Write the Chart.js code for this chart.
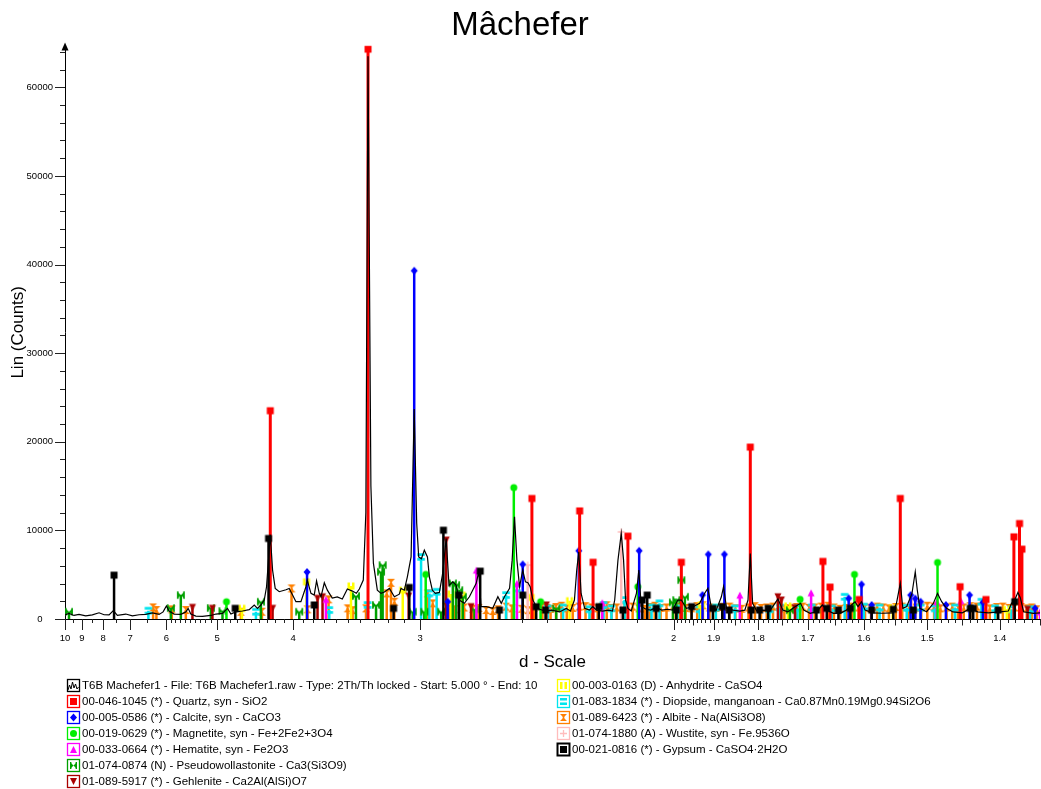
<!DOCTYPE html>
<html>
<head>
<meta charset="utf-8">
<title>Mâchefer</title>
<script src="https://cdn.jsdelivr.net/npm/chart.js@4.4.1/dist/chart.umd.min.js"></script>
<style>
    html, body { margin: 0; padding: 0; background: #fff; overflow: hidden; }
    #wrap { position: relative; width: 1041px; height: 789px; font-family: Arial, "Liberation Sans", sans-serif; }
    #chart { position: absolute; left: 0; top: 0; }
    .legend { position: absolute; font-size: 11.5px; color: #000; }
    .legend .row { height: 16.05px; white-space: nowrap; display: flex; align-items: center; }
    .legend canvas { margin-right: 1px; flex: none; }
</style>
</head>
<body>
<div id="wrap">
    <canvas id="chart" width="1041" height="789"></canvas>
    <div class="legend" style="left:66px; top:677px">
        <div class="row"><canvas class="ico" data-key="pattern" width="15" height="15"></canvas><span>T6B Machefer1 - File: T6B Machefer1.raw - Type: 2Th/Th locked - Start: 5.000 ° - End: 10</span></div>
        <div class="row"><canvas class="ico" data-key="quartz" width="15" height="15"></canvas><span>00-046-1045 (*) - Quartz, syn - SiO2</span></div>
        <div class="row"><canvas class="ico" data-key="calcite" width="15" height="15"></canvas><span>00-005-0586 (*) - Calcite, syn - CaCO3</span></div>
        <div class="row"><canvas class="ico" data-key="magnetite" width="15" height="15"></canvas><span>00-019-0629 (*) - Magnetite, syn - Fe+2Fe2+3O4</span></div>
        <div class="row"><canvas class="ico" data-key="hematite" width="15" height="15"></canvas><span>00-033-0664 (*) - Hematite, syn - Fe2O3</span></div>
        <div class="row"><canvas class="ico" data-key="pseudo" width="15" height="15"></canvas><span>01-074-0874 (N) - Pseudowollastonite - Ca3(Si3O9)</span></div>
        <div class="row"><canvas class="ico" data-key="gehlenite" width="15" height="15"></canvas><span>01-089-5917 (*) - Gehlenite - Ca2Al(AlSi)O7</span></div>
    </div>
    <div class="legend" style="left:556px; top:677px">
        <div class="row"><canvas class="ico" data-key="anhydrite" width="15" height="15"></canvas><span>00-003-0163 (D) - Anhydrite - CaSO4</span></div>
        <div class="row"><canvas class="ico" data-key="diopside" width="15" height="15"></canvas><span>01-083-1834 (*) - Diopside, manganoan - Ca0.87Mn0.19Mg0.94Si2O6</span></div>
        <div class="row"><canvas class="ico" data-key="albite" width="15" height="15"></canvas><span>01-089-6423 (*) - Albite - Na(AlSi3O8)</span></div>
        <div class="row"><canvas class="ico" data-key="wustite" width="15" height="15"></canvas><span>01-074-1880 (A) - Wustite, syn - Fe.9536O</span></div>
        <div class="row"><canvas class="ico" data-key="gypsum" width="15" height="15"></canvas><span>00-021-0816 (*) - Gypsum - CaSO4·2H2O</span></div>
    </div>
</div>
<script>
// measured pattern: d-spacing (Å) and Lin counts
const patternD = [10.0, 9.744, 9.441, 9.157, 8.801, 8.477, 8.172, 7.958, 7.755, 7.589, 7.440, 7.146, 6.931, 6.726, 6.532, 6.352, 6.179, 6.080, 6.001, 5.938,
    5.824, 5.678, 5.574, 5.527, 5.474, 5.377, 5.254, 5.106, 5.022, 4.914, 4.836, 4.784, 4.710, 4.616, 4.524, 4.457, 4.415, 4.372, 4.330, 4.302,
    4.257, 4.230, 4.199, 4.153, 4.078, 4.043, 4.007, 3.972, 3.921, 3.871, 3.858, 3.822, 3.791, 3.769, 3.744, 3.728, 3.698, 3.671, 3.628, 3.585,
    3.543, 3.502, 3.462, 3.431, 3.408, 3.378, 3.359, 3.343, 3.322, 3.304, 3.276, 3.250, 3.227, 3.193, 3.160, 3.128, 3.117, 3.096, 3.077, 3.054,
    3.035, 3.020, 3.008, 2.992, 2.975, 2.957, 2.946, 2.929, 2.912, 2.890, 2.873, 2.853, 2.838, 2.818, 2.801, 2.785, 2.759, 2.734, 2.701, 2.689,
    2.678, 2.654, 2.624, 2.601, 2.586, 2.572, 2.550, 2.539, 2.529, 2.519, 2.508, 2.495, 2.484, 2.474, 2.465, 2.454, 2.441, 2.428, 2.405, 2.382,
    2.353, 2.329, 2.314, 2.300, 2.292, 2.285, 2.277, 2.265, 2.249, 2.238, 2.225, 2.206, 2.187, 2.175, 2.168, 2.158, 2.148, 2.141, 2.135, 2.128,
    2.118, 2.103, 2.096, 2.089, 2.075, 2.062, 2.047, 2.032, 2.016, 2.003, 1.989, 1.980, 1.967, 1.950, 1.934, 1.922, 1.914, 1.906, 1.894, 1.882,
    1.877, 1.870, 1.856, 1.840, 1.829, 1.822, 1.817, 1.812, 1.803, 1.790, 1.776, 1.759, 1.749, 1.739, 1.725, 1.714, 1.708, 1.696, 1.684, 1.673,
    1.665, 1.653, 1.641, 1.630, 1.621, 1.615, 1.610, 1.604, 1.598, 1.585, 1.569, 1.553, 1.547, 1.541, 1.537, 1.531, 1.523, 1.518, 1.515, 1.511,
    1.501, 1.491, 1.485, 1.479, 1.472, 1.463, 1.450, 1.439, 1.429, 1.415, 1.400, 1.389, 1.385, 1.381, 1.377, 1.374, 1.370, 1.358, 1.350];
const patternCounts = [450, 640, 400, 520, 350, 470, 700, 480, 470, 940, 400, 560, 350, 480, 520, 700, 520, 800, 1460, 900,
    560, 520, 800, 1200, 560, 330, 300, 400, 560, 640, 1200, 560, 800, 900, 1050, 1580, 1200, 1580, 2140, 3640,
    9500, 5520, 3450, 3080, 3300, 3450, 2700, 1950, 1950, 3640, 4390, 2900, 2700, 4300, 2900, 2500, 4090, 3260, 2360, 2500,
    2250, 3380, 3150, 2900, 3380, 4390, 12000, 63500, 15000, 6300, 3260, 2890, 3040, 3450, 2510, 2800, 3450, 3250, 4760, 7000,
    23700, 10800, 7000, 6800, 7770, 7000, 4760, 3250, 2900, 3000, 5000, 9090, 3800, 4200, 3830, 2140, 1770, 2510, 4020, 5330,
    1390, 1390, 1200, 2510, 1770, 2510, 3450, 6640, 11520, 6640, 3640, 5520, 4200, 4100, 3640, 2140, 1390, 1100, 900, 1000,
    800, 1200, 900, 2140, 5520, 7580, 2880, 1200, 1000, 1390, 1000, 900, 1000, 900, 2140, 6640, 9650, 6640, 2140, 1200,
    900, 2880, 5520, 1390, 1100, 1000, 1300, 1000, 1100, 1000, 2140, 2140, 1200, 1390, 1770, 2880, 3450, 1390, 1000, 2510,
    3640, 1200, 1000, 900, 1000, 2140, 7400, 1770, 900, 1000, 900, 2260, 1000, 800, 1370, 1770, 1000, 640, 820, 1580,
    1000, 640, 640, 1000, 1580, 1950, 1400, 1950, 1000, 700, 650, 700, 1770, 4020, 1200, 1400, 2880, 5330, 3300, 1200,
    820, 1770, 2890, 1950, 1200, 800, 700, 1200, 800, 700, 800, 900, 1770, 2140, 3000, 2400, 820, 640, 700];

// reference sticks: d-spacing and drawn height
const quartzD = [4.257, 3.343, 2.458, 2.282, 2.237, 2.128, 1.980, 1.817, 1.672, 1.659, 1.608, 1.541, 1.453, 1.418, 1.382, 1.375, 1.372];
const quartzI = [23500, 64300, 13600, 12200, 6400, 9350, 6400, 19400, 6500, 3600, 2200, 13600, 3640, 2200, 9270, 10770, 7880];
const calciteD = [3.860, 3.035, 2.845, 2.495, 2.285, 2.095, 1.927, 1.913, 1.875, 1.626, 1.604, 1.587, 1.525, 1.518, 1.510, 1.473, 1.440, 1.422, 1.356];
const calciteI = [5300, 39300, 1950, 6160, 7700, 7700, 2700, 7290, 7290, 2330, 3900, 1580, 2700, 2300, 1950, 1580, 2700, 1880, 1200];
const magnetiteD = [4.852, 2.967, 2.532, 2.424, 2.099, 1.715, 1.616, 1.485];
const magnetiteI = [1950, 5030, 14830, 1950, 3640, 2220, 5030, 6380];
const hematiteD = [3.684, 2.700, 2.519, 2.207, 1.840, 1.694, 1.486, 1.452, 1.350];
const hematiteI = [2220, 5520, 4020, 1840, 2700, 2960, 1950, 2060, 820];
const pseudoD = [9.744, 5.898, 5.678, 5.106, 4.914, 4.372, 3.938, 3.434, 3.285, 3.250, 3.239, 3.044, 2.975, 2.880, 2.818, 2.801, 2.785, 2.767, 2.709, 2.365, 2.002, 1.993, 1.980, 1.971, 1.735];
const pseudoI = [820, 1240, 2700, 1240, 900, 1950, 820, 2590, 1580, 5330, 6080, 820, 820, 820, 4020, 3830, 3260, 2510, 1090, 1200, 1880, 2140, 4390, 2510, 1000];
const gehleniteD = [5.442, 5.079, 4.230, 3.760, 3.714, 3.069, 2.853, 2.726, 2.402, 1.759, 1.752, 1.725, 1.365];
const gehleniteI = [1310, 1200, 1200, 2330, 2510, 2590, 8900, 1390, 1580, 2510, 2140, 1270, 1090];
const anhydriteD = [4.624, 3.865, 3.473, 3.106, 2.827, 2.770, 2.461, 2.317, 1.930, 1.739, 1.553, 1.391];
const anhydriteI = [1200, 4200, 3720, 3260, 2820, 2700, 2440, 2060, 1580, 1460, 1270, 1090];
const diopsideD = [6.460, 4.435, 3.654, 3.346, 2.994, 2.946, 2.905, 2.565, 2.519, 2.397, 2.340, 2.249, 2.203, 2.178, 2.138, 2.060, 2.038, 1.990, 1.934, 1.895,
    1.851, 1.776, 1.755, 1.720, 1.693, 1.656, 1.633, 1.600, 1.574, 1.531, 1.510, 1.489, 1.460, 1.424, 1.406, 1.385, 1.362];
const diopsideI = [940, 820, 1010, 1580, 7000, 2890, 3070, 2700, 3450, 1200, 1300, 1100, 1580, 1200, 2140, 1300, 1770, 1200, 1100, 1300,
    1200, 1100, 1300, 1200, 1300, 1200, 2510, 1400, 1300, 1270, 1300, 1200, 1300, 1950, 1200, 1090, 1100];
const albiteD = [6.333, 6.247, 5.876, 5.574, 4.638, 4.359, 4.018, 3.855, 3.660, 3.500, 3.460, 3.358, 3.211, 3.182, 3.160, 2.955, 2.927, 2.853, 2.836, 2.810,
    2.760, 2.717, 2.690, 2.654, 2.624, 2.600, 2.565, 2.540, 2.500, 2.474, 2.450, 2.417, 2.401, 2.386, 2.366, 2.346, 2.327, 2.306, 2.284, 2.262,
    2.242, 2.222, 2.207, 2.193, 2.178, 2.162, 2.138, 2.114, 2.096, 2.079, 2.065, 2.051, 2.035, 2.019, 2.001, 1.984, 1.969, 1.954, 1.940, 1.926,
    1.910, 1.895, 1.879, 1.863, 1.850, 1.836, 1.821, 1.807, 1.794, 1.782, 1.769, 1.757, 1.746, 1.735, 1.722, 1.710, 1.698, 1.687, 1.675, 1.663,
    1.652, 1.641, 1.630, 1.620, 1.609, 1.598, 1.588, 1.578, 1.568, 1.559, 1.548, 1.538, 1.528, 1.518, 1.509, 1.500, 1.490, 1.481, 1.472, 1.464,
    1.456, 1.448, 1.439, 1.430, 1.421, 1.413, 1.404, 1.396, 1.388, 1.381, 1.373, 1.366, 1.360, 1.354];
const albiteI = [1310, 1010, 1090, 1010, 820, 820, 3450, 1090, 2220, 1200, 1000, 1200, 2890, 4090, 1950, 2890, 1770, 1390, 1200, 1100,
    1300, 1150, 1250, 1010, 900, 1100, 1390, 1200, 1150, 1000, 1250, 1400, 1250, 1150, 1350, 1500, 1200, 1250, 1400, 1450,
    1300, 1200, 1350, 1550, 1250, 1300, 1450, 1400, 1200, 1150, 1350, 1500, 1250, 1300, 1500, 1400, 1250, 1200, 1450, 1550,
    1300, 1250, 1350, 1400, 1200, 1150, 1300, 1450, 1250, 1300, 1400, 1550, 1200, 1200, 1350, 1400, 1250, 1300, 1400, 1500,
    1300, 1150, 1250, 1400, 1300, 1300, 1200, 1400, 1300, 1200, 1350, 1400, 1250, 1300, 1300, 1500, 1400, 1200, 1300, 1400,
    1250, 1300, 1450, 1400, 1300, 1200, 1350, 1400, 1250, 1300, 1350, 1200, 1300, 1100];
const wustiteD = [2.475, 2.148, 1.523];
const wustiteI = [6080, 9830, 2330];
const gypsumD = [7.562, 4.720, 4.278, 3.791, 3.165, 3.065, 2.868, 2.787, 2.682, 2.594, 2.495, 2.441, 2.405, 2.218, 2.143, 2.086, 2.072, 2.047, 1.993, 1.954,
    1.902, 1.880, 1.864, 1.815, 1.797, 1.779, 1.684, 1.665, 1.644, 1.623, 1.587, 1.552, 1.521, 1.439, 1.435, 1.402, 1.381];
const gypsumI = [4950, 1200, 9090, 1580, 1200, 3560, 10020, 2700, 5400, 1010, 2700, 1390, 1010, 1390, 1010, 2140, 2700, 1200, 1010, 1390,
    1200, 1390, 1010, 1010, 1010, 1200, 1010, 1200, 1010, 1200, 1010, 1100, 1010, 1200, 1200, 1010, 1950];

// axis ticks (d-spacing)
const xMajorTicks = [10, 9, 8, 7, 6, 5, 4, 3, 2, 1.9, 1.8, 1.7, 1.6, 1.5, 1.4];
const xMinorTicks = [9.5, 8.5, 7.5, 6.5, 5.9, 5.8, 5.7, 5.6, 5.5, 5.4, 5.3, 5.2, 5.1, 4.9, 4.8, 4.7, 4.6, 4.5, 4.4, 4.3, 4.2, 4.1,
    3.9, 3.8, 3.7, 3.6, 3.5, 3.4, 3.3, 3.2, 3.1, 2.5, 2.4, 2.3, 2.2, 2.1];
const yMax = 64700;
const dMin = 1.35;
const dMax = 10;

for (let k = 199; k >= 135; k--) {
    if (k % 10 !== 0) xMinorTicks.push(k / 100);
}

const xTickList = xMajorTicks.map(d => ({ d: d, kind: 'major' }))
    .concat(xMinorTicks.map(d => ({ d: d, kind: (d < 2 && Math.round(d * 100) % 5 === 0) ? 'mid' : 'minor' })))
    .sort((a, b) => (1 / a.d) - (1 / b.d));

const yTickValues = [];
for (let v = 0; v <= 64000; v += 2000) yTickValues.push(v);

const phases = [
    { key: 'quartz', d: quartzD, h: quartzI, color: '#ff0000', shape: 'rect', size: 7, order: 2 },
    { key: 'calcite', d: calciteD, h: calciteI, color: '#0000ff', shape: 'diamond', size: 7, order: 3 },
    { key: 'magnetite', d: magnetiteD, h: magnetiteI, color: '#00ee00', shape: 'circle', size: 7, order: 4 },
    { key: 'hematite', d: hematiteD, h: hematiteI, color: '#ff00ff', shape: 'triangle', size: 7, order: 5 },
    { key: 'pseudo', d: pseudoD, h: pseudoI, color: '#00a000', shape: 'bowtie', size: 7.5, order: 8 },
    { key: 'gehlenite', d: gehleniteD, h: gehleniteI, color: '#aa0000', shape: 'triangleDown', size: 7, order: 7 },
    { key: 'anhydrite', d: anhydriteD, h: anhydriteI, color: '#ffff00', shape: 'bars2v', size: 7, order: 9 },
    { key: 'diopside', d: diopsideD, h: diopsideI, color: '#00e5ee', shape: 'bars2h', size: 7.5, order: 10 },
    { key: 'albite', d: albiteD, h: albiteI, color: '#ff8000', shape: 'hourglass', size: 8, order: 11 },
    { key: 'wustite', d: wustiteD, h: wustiteI, color: '#ffbcbc', shape: 'cross', size: 7, order: 6 },
    { key: 'gypsum', d: gypsumD, h: gypsumI, color: '#000000', shape: 'rect', size: 7, order: 1 }
];

function drawShape(g, kind, cx, cy, s, color) {
    const h = s / 2;
    g.fillStyle = color;
    g.strokeStyle = color;
    g.lineWidth = 1;
    g.beginPath();
    switch (kind) {
        case 'rect':
            g.rect(cx - h, cy - h, s, s);
            g.fill();
            break;
        case 'diamond':
            g.moveTo(cx, cy - h - 0.5); g.lineTo(cx + h, cy); g.lineTo(cx, cy + h + 0.5); g.lineTo(cx - h, cy);
            g.closePath(); g.fill();
            break;
        case 'circle':
            g.arc(cx, cy, h, 0, Math.PI * 2);
            g.fill();
            break;
        case 'triangle':
            g.moveTo(cx, cy - h); g.lineTo(cx + h, cy + h); g.lineTo(cx - h, cy + h);
            g.closePath(); g.fill();
            break;
        case 'triangleDown':
            g.moveTo(cx - h, cy - h); g.lineTo(cx + h, cy - h); g.lineTo(cx, cy + h);
            g.closePath(); g.fill();
            break;
        case 'bowtie':
            g.moveTo(cx - h, cy - h); g.lineTo(cx, cy); g.lineTo(cx - h, cy + h); g.closePath();
            g.moveTo(cx + h, cy - h); g.lineTo(cx, cy); g.lineTo(cx + h, cy + h); g.closePath();
            g.fill();
            g.fillRect(cx - h, cy - h, 1.4, s);
            g.fillRect(cx + h - 1.4, cy - h, 1.4, s);
            break;
        case 'hourglass':
            g.moveTo(cx - h, cy - h); g.lineTo(cx + h, cy - h); g.lineTo(cx, cy); g.closePath();
            g.moveTo(cx - h, cy + h); g.lineTo(cx + h, cy + h); g.lineTo(cx, cy); g.closePath();
            g.fill();
            g.fillRect(cx - 0.8, cy - h, 1.6, s);
            break;
        case 'bars2v':
            g.fillRect(cx - h, cy - h, s * 0.36, s);
            g.fillRect(cx + h - s * 0.36, cy - h, s * 0.36, s);
            break;
        case 'bars2h':
            g.fillRect(cx - h, cy - h, s, s * 0.36);
            g.fillRect(cx - h, cy + h - s * 0.36, s, s * 0.36);
            break;
        case 'cross':
            g.lineWidth = 1.3;
            g.moveTo(cx - h, cy); g.lineTo(cx + h, cy);
            g.moveTo(cx, cy - h); g.lineTo(cx, cy + h);
            g.stroke();
            break;
    }
}

function makeMarker(kind, color, size) {
    const c = document.createElement('canvas');
    c.width = 10;
    c.height = 10;
    drawShape(c.getContext('2d'), kind, 5, 5, size, color);
    return c;
}

function stickData(dList, hList) {
    const pts = [];
    dList.forEach((d, k) => {
        pts.push({ x: 1 / d, y: 0 });
        pts.push({ x: 1 / d, y: hList[k] });
        pts.push({ x: 1 / d, y: null });
    });
    return pts;
}

const datasets = [{
    label: 'T6B Machefer1',
    data: patternD.map((d, k) => ({ x: 1 / d, y: patternCounts[k] })),
    borderColor: '#000',
    borderWidth: 1.2,
    pointRadius: 0,
    tension: 0,
    order: 0
}];

phases.forEach(p => {
    datasets.push({
        label: p.key,
        data: stickData(p.d, p.h),
        borderColor: p.color,
        borderWidth: p.key === 'quartz' ? 3 : 2.5,
        pointStyle: makeMarker(p.shape, p.color, p.size),
        pointRadius: ctx => (ctx.dataIndex % 3 === 1 ? 4 : 0),
        spanGaps: false,
        tension: 0,
        order: p.order
    });
});

const tickMarks = {
    id: 'tickMarks',
    afterDraw(chart) {
        const { ctx } = chart;
        const x = chart.scales.x;
        const y = chart.scales.y;
        ctx.save();
        ctx.strokeStyle = '#222';
        ctx.lineWidth = 1;
        ctx.beginPath();
        xTickList.forEach(t => {
            const px = Math.round(x.getPixelForValue(1 / t.d)) + 0.5;
            const len = t.kind === 'major' ? 11 : (t.kind === 'mid' ? 6.5 : 4);
            ctx.moveTo(px, y.bottom);
            ctx.lineTo(px, y.bottom + len);
        });
        yTickValues.forEach(v => {
            const py = Math.round(y.getPixelForValue(v)) + 0.5;
            const len = v % 10000 === 0 ? 10 : 5;
            ctx.moveTo(x.left, py);
            ctx.lineTo(x.left - len, py);
        });
        ctx.stroke();
        ctx.fillStyle = '#000';
        ctx.beginPath();
        ctx.moveTo(x.left, y.top - 3);
        ctx.lineTo(x.left - 3.5, y.top + 5);
        ctx.lineTo(x.left + 3.5, y.top + 5);
        ctx.closePath();
        ctx.fill();
        ctx.restore();
    }
};

Chart.defaults.font.family = 'Arial, "Liberation Sans", sans-serif';
Chart.defaults.color = '#000';

new Chart(document.getElementById('chart').getContext('2d'), {
    type: 'line',
    data: { datasets: datasets },
    options: {
        responsive: false,
        animation: false,
        events: [],
        layout: { padding: { left: 0, right: 1, top: 0, bottom: 114 } },
        plugins: {
            legend: { display: false },
            tooltip: { enabled: false },
            title: {
                display: true,
                text: 'Mâchefer',
                color: '#000',
                font: { size: 33, weight: 'normal' },
                padding: { top: 6, bottom: 0 }
            }
        },
        scales: {
            x: {
                type: 'linear',
                position: 'bottom',
                min: 1 / dMax,
                max: 1 / dMin,
                afterFit: scale => {
                    scale.height = 56;
                    scale.paddingLeft = 0;
                    scale.paddingRight = 0;
                },
                afterBuildTicks: scale => { scale.ticks = xTickList.map(t => ({ value: 1 / t.d })); },
                ticks: {
                    autoSkip: false,
                    maxRotation: 0,
                    minRotation: 0,
                    padding: 5,
                    color: '#000',
                    font: { size: 9.5 },
                    callback: (value, index) => (xTickList[index] && xTickList[index].kind === 'major') ? String(xTickList[index].d) : ''
                },
                grid: { display: false, drawTicks: true, tickLength: 9 },
                border: { display: true, color: '#000', width: 1 },
                title: { display: true, text: 'd - Scale', color: '#000', font: { size: 17 }, padding: { top: 0, bottom: 2 } }
            },
            y: {
                type: 'linear',
                min: 0,
                max: yMax,
                afterFit: scale => { scale.width = 65; },
                afterBuildTicks: scale => { scale.ticks = yTickValues.map(v => ({ value: v })); },
                ticks: {
                    autoSkip: false,
                    crossAlign: 'center',
                    padding: 4,
                    color: '#000',
                    font: { size: 9.5 },
                    callback: value => (value % 10000 === 0 ? String(value) : '')
                },
                grid: { display: false, drawTicks: true, tickLength: 8 },
                border: { display: true, color: '#000', width: 1 },
                title: { display: true, text: 'Lin (Counts)', color: '#000', font: { size: 17 }, padding: { top: 8, bottom: 0 } }
            }
        }
    },
    plugins: [tickMarks]
});

// legend icons
document.querySelectorAll('canvas.ico').forEach(c => {
    const g = c.getContext('2d');
    const key = c.dataset.key;
    const p = phases.find(q => q.key === key);
    const color = p ? p.color : '#000';
    g.strokeStyle = color;
    g.lineWidth = (key === 'gypsum') ? 2 : 1.3;
    g.strokeRect(1.5, 1.5, 12, 12);
    if (p) {
        drawShape(g, p.shape, 7.5, 7.5, 7, color);
    } else {
        g.strokeStyle = '#000';
        g.lineWidth = 1;
        g.beginPath();
        const zig = [[2, 12], [3.5, 7], [5, 11], [6.5, 4], [8, 10], [9.5, 6], [11, 11], [12.5, 9]];
        zig.forEach((pt, k) => (k ? g.lineTo(pt[0], pt[1]) : g.moveTo(pt[0], pt[1])));
        g.stroke();
    }
});
</script>
</body>
</html>
